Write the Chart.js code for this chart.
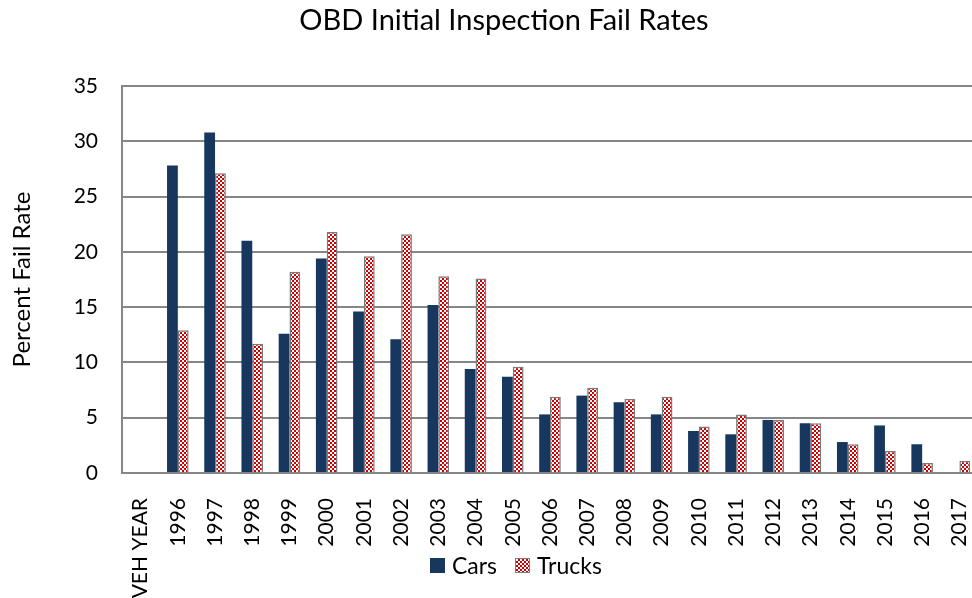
<!DOCTYPE html>
<html>
<head>
<meta charset="utf-8">
<script src="https://cdn.jsdelivr.net/npm/chart.js@4.4.1/dist/chart.umd.min.js"></script>
<style>
  html, body { margin: 0; padding: 0; background: #fff; }
  #wrap { position: relative; width: 972px; height: 598px; overflow: hidden; font-family: Lato, sans-serif; }
  #chart { position: absolute; left: 0; top: 0; }
  #title { position: absolute; top: 1px; left: 36px; right: 0; text-align: center; font-size: 29px; color: #000; }
  #legend { position: absolute; top: 551px; left: 430px; font-size: 23px; color: #000; display: flex; align-items: center; }
  .sw { display: inline-block; width: 15px; height: 15px; margin-right: 7px; }
  .cars { background: #17375e; }
  .trucks { width: 13px; height: 13px; border: 1px solid #7f7f7f;
    background: repeating-conic-gradient(#cc0000 0 25%, #fff 0 50%) 0 0 / 4px 4px; }
</style>
</head>
<body>
<div id="wrap">
  <canvas id="chart" width="978" height="598"></canvas>
  <div id="title">OBD Initial Inspection Fail Rates</div>
  <div id="legend">
    <span class="sw cars"></span><span>Cars</span>
    <span class="sw trucks" style="margin-left:18px"></span><span>Trucks</span>
  </div>
</div>
<script>
const years = ['VEH YEAR', '1996', '1997', '1998', '1999', '2000', '2001', '2002', '2003', '2004', '2005',
  '2006', '2007', '2008', '2009', '2010', '2011', '2012', '2013', '2014', '2015', '2016', '2017'];
const cars = [null, 27.8, 30.8, 21.0, 12.6, 19.4, 14.6, 12.1, 15.2, 9.4, 8.7,
  5.3, 7.0, 6.4, 5.3, 3.8, 3.5, 4.8, 4.5, 2.8, 4.3, 2.6, null];
const trucks = [null, 12.9, 27.1, 11.7, 18.2, 21.8, 19.6, 21.6, 17.8, 17.6, 9.6,
  6.9, 7.7, 6.7, 6.9, 4.2, 5.3, 4.8, 4.5, 2.6, 2.0, 0.9, 1.1];
const yTicks = [0, 5, 10, 15, 20, 25, 30, 35];

function checkerPattern() {
  const c = document.createElement('canvas');
  c.width = 4;
  c.height = 4;
  const g = c.getContext('2d');
  g.fillStyle = '#ffffff';
  g.fillRect(0, 0, 4, 4);
  g.fillStyle = '#cc0000';
  g.fillRect(0, 0, 2, 2);
  g.fillRect(2, 2, 2, 2);
  return g.createPattern(c, 'repeat');
}

const ctx = document.getElementById('chart').getContext('2d');
new Chart(ctx, {
  type: 'bar',
  data: {
    labels: years,
    datasets: [
      {
        label: 'Cars',
        data: cars,
        backgroundColor: '#17375e',
        borderWidth: 0,
        categoryPercentage: 0.58,
        barPercentage: 1,
      },
      {
        label: 'Trucks',
        data: trucks,
        backgroundColor: checkerPattern(),
        borderColor: '#7a7a7a',
        borderWidth: 1.5,
        categoryPercentage: 0.58,
        barPercentage: 1,
      }
    ]
  },
  options: {
    responsive: false,
    animation: false,
    layout: { padding: { top: 86, left: 8, right: 0, bottom: 0 } },
    plugins: {
      legend: { display: false },
      title: { display: false },
      tooltip: { enabled: false }
    },
    scales: {
      x: {
        grid: { display: false },
        border: { color: '#868686', width: 2 },
        ticks: {
          color: '#000',
          font: { family: 'Lato', size: 21 },
          minRotation: 90,
          maxRotation: 90,
          padding: 17,
          autoSkip: false
        },
        afterFit: (scale) => {
          scale.height = 125;
          scale.paddingLeft = 0;
          scale.paddingRight = 0;
        }
      },
      y: {
        min: 0,
        max: 35,
        afterBuildTicks: (scale) => { scale.ticks = yTicks.map((v) => ({ value: v })); },
        grid: { color: '#868686', lineWidth: 2, drawTicks: false },
        border: { color: '#868686', width: 2 },
        ticks: {
          color: '#000',
          font: { family: 'Lato', size: 21 },
          padding: 24
        },
        title: {
          display: true,
          text: 'Percent Fail Rate',
          color: '#000',
          font: { family: 'Lato', size: 24 },
          padding: 0
        },
        afterFit: (scale) => { scale.width = 114; }
      }
    }
  }
});
</script>
</body>
</html>
